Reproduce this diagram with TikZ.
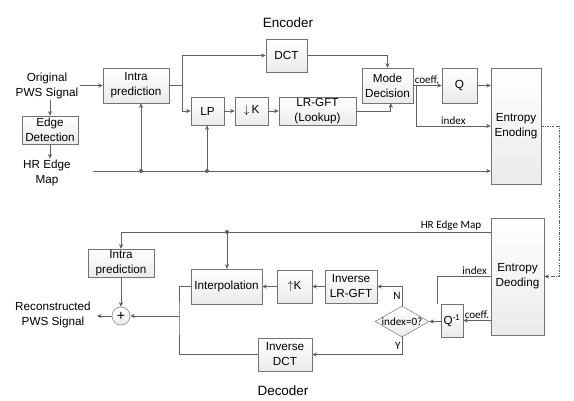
\documentclass[tikz,border=0pt]{standalone}
\usepackage{fontspec}
\setmainfont{Liberation Sans}
\newfontfamily\lblfont{Carlito}
\usetikzlibrary{arrows.meta,shapes.geometric}

\tikzset{
	blk/.style 2 args={draw=black!55, top color=white, bottom color=black!8, inner sep=0pt, align=center,
		minimum width=#1*0.3mm, minimum height=#2*0.3mm, font=\fontsize{10}{12.8}\selectfont},
	txt/.style={align=center, inner sep=1pt, font=\fontsize{10}{12.8}\selectfont},
	ttl/.style={inner sep=1pt, font=\fontsize{11.5}{13}\selectfont},
	lbl/.style={inner sep=1pt, font=\lblfont\fontsize{9.5}{10}\selectfont},
	wire/.style={draw=black!62, line width=0.6pt},
	flow/.style={wire, -{Stealth[length=4pt,width=3.6pt]}},
	dec/.style={draw=black!55, diamond, inner sep=0pt, top color=white, bottom color=black!8,
		minimum width=54*0.3mm, minimum height=31*0.3mm},
	sum/.style={draw=black!55, circle, inner sep=0pt, top color=white, bottom color=black!8,
		minimum size=18*0.3mm, font=\fontsize{12}{12}\selectfont}
}

\begin{document}
\begin{tikzpicture}[x=0.3mm, y=-0.3mm]
			%%%%% START %%%%%
			\useasboundingbox (0,0) rectangle (574,400);
			
			% encoder
			\node[ttl] (enclbl) at (288,23) {Encoder};
			\node[txt] (orig) at (47,86) {Original\\PWS Signal};
			\node[blk={56}{28}] (edge) at (50,130) {Edge\\Detection};
			\node[txt] (hrmap) at (47,173) {HR Edge\\Map};
			\node[blk={66}{35}] (intraE) at (136,85.5) {Intra\\prediction};
			\node[blk={41}{33}] (dct) at (286.5,55.5) {DCT};
			\node[blk={33}{28}] (lp) at (207.5,111) {LP};
			\node[blk={33}{28}] (dk) at (251.5,111) {$\downarrow$\,K};
			\node[blk={77}{28}] (lrgft) at (317.5,111) {LR-GFT\\(Lookup)};
			\node[blk={51}{35}] (mode) at (387.5,85.5) {Mode\\Decision};
			\node[blk={35}{35}] (q) at (459.5,85.5) {Q};
			\node[blk={50}{116}] (entE) at (516,126) {Entropy\\Enoding};
			
			\coordinate (busL) at (93,171);
			\coordinate (tapA) at (141,171);
			\coordinate (tapB) at (207,171);
			\coordinate (split) at (182,85.5);
			\coordinate (split2) at (416,85.5);
			\coordinate (hop) at (559,200);
			
			\draw[flow] (orig.east |- intraE.west) -- (intraE.west);
			\draw[flow] (orig.south -| edge.north) -- (edge.north);
			\draw[flow] (edge.south) -- (edge.south |- hrmap.north);
			\draw[flow] (busL) -- (busL -| entE.west);
			\fill[black!62] (tapA) circle (2);
			\fill[black!62] (tapB) circle (2);
			\draw[flow] (tapA) -- (tapA |- intraE.south);
			\draw[flow] (tapB) -- (tapB |- lp.south);
			\draw[wire] (intraE.east) -- (split);
			\draw[flow] (split) |- (dct.west);
			\draw[flow] (split) |- (lp.west);
			\draw[flow] (lp) -- (dk);
			\draw[flow] (dk) -- (lrgft);
			\draw[flow] (dct.east) -| (mode.north);
			\draw[flow] (lrgft.east) -| ([xshift=1mm]mode.south);
			\draw[flow] (mode.east) -- (q.west) node[lbl, pos=0, anchor=south west] {coeff.};
			\draw[flow] (split2) |- (entE.west) node[lbl, pos=0.75, above] {index};
			\draw[flow] (q.east) -- (q.east -| entE.west);
			
			% decoder
			\node[ttl] (declbl) at (283,391) {Decoder};
			\node[blk={53}{117}] (entD) at (517.5,276.5) {Entropy\\Deoding};
			\node[blk={66}{28}] (intraD) at (121,263) {Intra\\prediction};
			\node[blk={71}{35}] (interp) at (226.5,286.5) {Interpolation};
			\node[blk={35}{33}] (upk) at (294.5,286.5) {$\uparrow$K};
			\node[blk={52}{33}] (ilrgft) at (351,286.5) {Inverse\\LR-GFT};
			\node[dec, label={[lbl]center:index=0?}] (chk) at (402,321.5) {};
			\node[blk={22}{33}] (qinv) at (452,320.5) {Q\textsuperscript{-1}};
			\node[blk={54}{33}] (idct) at (285,354.5) {Inverse\\DCT};
			\node[sum] (adder) at (121,316) {+};
			\node[txt] (recon) at (53,315) {Reconstructed\\PWS Signal};
			
			\coordinate (hrR) at (491,232);
			\coordinate (tapC) at (227,232);
			\coordinate (idxEnd) at (437,304);
			\coordinate (join) at (179,316);
			\coordinate (outEnd) at (97,316);
			
			\draw[flow, dash pattern=on 2pt off 1pt on 0.6pt off 1pt] (entE.east) -| (hop) |- (entD.east);
			\draw[flow] (hrR) -| (intraD.north) node[lbl, pos=0.054, above] {HR Edge Map};
			\fill[black!62] (tapC) circle (2);
			\draw[flow] (tapC) -- (tapC |- interp.north);
			\draw[flow] (ilrgft) -- (upk);
			\draw[flow] (upk) -- (interp);
			\draw[flow] (chk.north) |- (ilrgft.east) node[lbl, pos=0.25, left] {N};
			\draw[flow] (chk.south) |- (idct.east) node[lbl, pos=0.25, left] {Y};
			\draw[flow] (qinv.west |- chk.east) -- (chk.east);
			\draw[flow] (entD.west |- qinv.east) -- (qinv.east) node[lbl, midway, above] {coeff.};
			\draw[wire] (entD.west) -| (idxEnd) node[lbl, pos=0.15, above] {index};
			\draw[wire] (interp.west) -| (join) |- (idct.west);
			\draw[flow] (join) -- (adder.east);
			\draw[flow] (intraD.south) -- (adder.north);
			\draw[flow] (adder.west) -- (outEnd);
			
			%%%%% END %%%%%
\end{tikzpicture}
\end{document}
